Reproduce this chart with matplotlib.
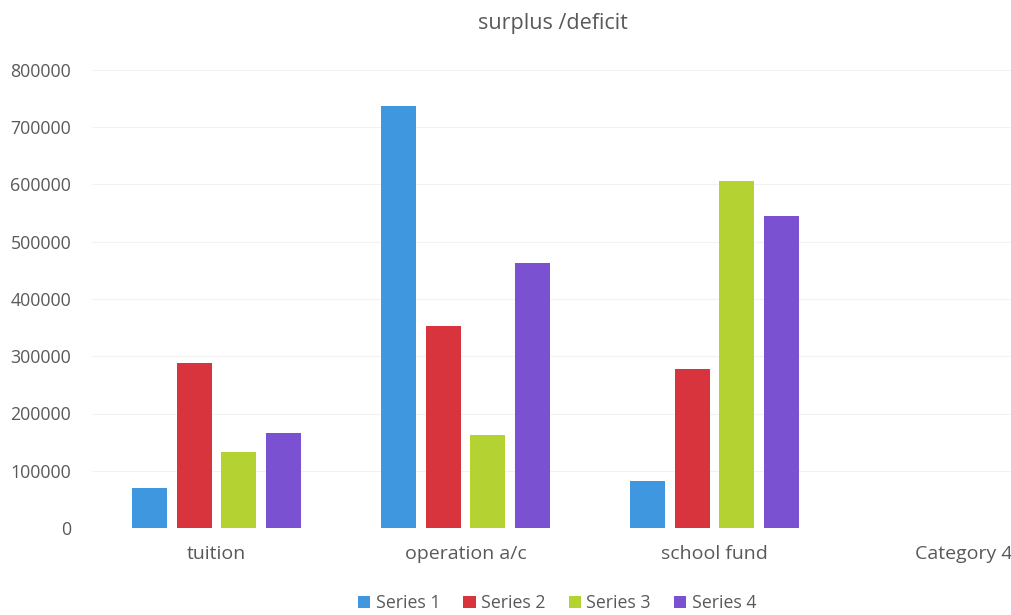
import matplotlib.pyplot as plt
import numpy as np

categories = ['tuition', 'operation a/c', 'school fund', 'Category 4']
series_names = ['Series 1', 'Series 2', 'Series 3', 'Series 4']
series_1 = [70000, 737000, 82000, np.nan]
series_2 = [288000, 353000, 278000, np.nan]
series_3 = [133000, 162000, 606000, np.nan]
series_4 = [166000, 463000, 545000, np.nan]
colors = ['#3f97e0', '#d8343e', '#b5d233', '#7a52d1']

plt.rcParams['font.family'] = ['Open Sans', 'DejaVu Sans']
fig = plt.figure(figsize=(10.12, 6.15), dpi=100)
ax = fig.add_axes([92 / 1012, 1 - 528 / 615, 996 / 1012, 458 / 615])

x = np.arange(len(categories))
step = 0.18
width = 0.14
for i, (vals, name) in enumerate(zip([series_1, series_2, series_3, series_4], series_names)):
    ax.bar(x + (i - 1.5) * step, vals, width, color=colors[i], label=name, zorder=2)

ax.set_xlim(-0.5, len(categories) - 0.5)
ax.set_ylim(0, 800000)
ax.set_yticks(np.arange(0, 800001, 100000))
ax.yaxis.grid(True, color='#f2f2f2', linewidth=0.8, zorder=0)
ax.set_xticks(x)
ax.set_xticklabels(categories)
ax.tick_params(axis='x', length=0, labelsize=14, colors='#595959', pad=12)
ax.tick_params(axis='y', length=0, labelsize=12.8, colors='#595959', pad=15)
for s in ax.spines.values():
    s.set_visible(False)

fig.text(553 / 1012, 1 - 23 / 615, 'surplus /deficit', ha='center', va='center',
         fontsize=15.5, color='#595959')
fig.legend(loc='center', bbox_to_anchor=(557 / 1012, 1 - 603 / 615), ncol=4,
           frameon=False, fontsize=12.8, handlelength=0.7, handleheight=0.7,
           handletextpad=0.3, columnspacing=1.3, labelcolor='#595959')

fig.savefig('out.png', dpi=100)
